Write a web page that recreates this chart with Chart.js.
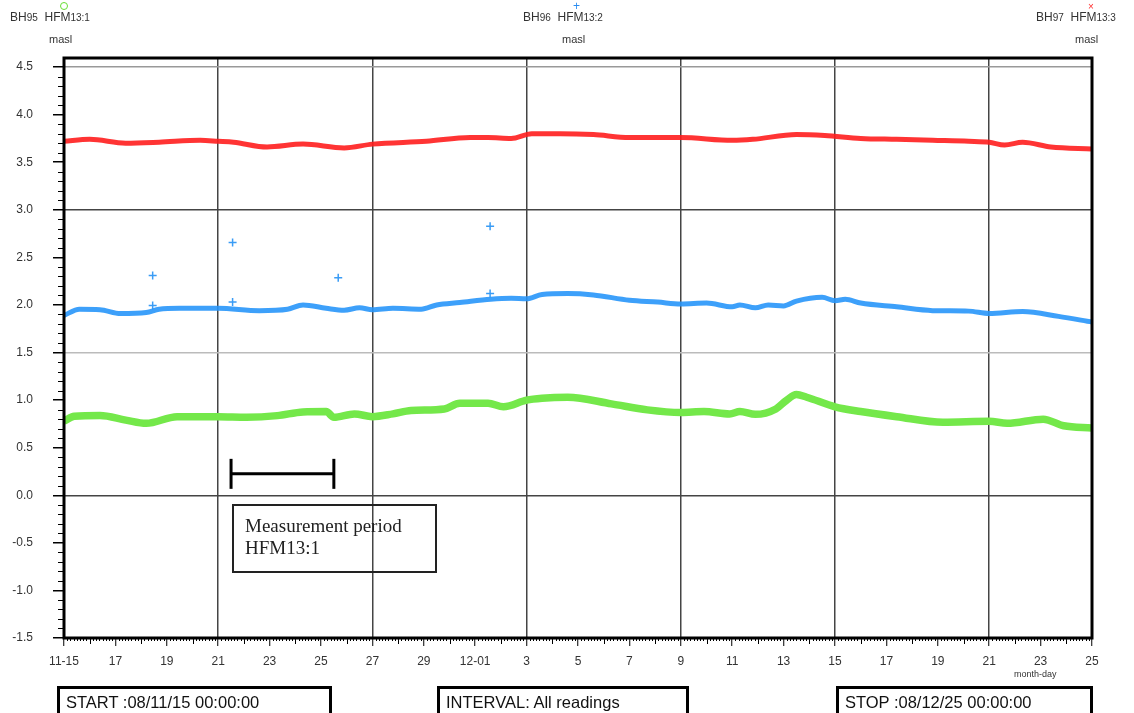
<!DOCTYPE html>
<html>
<head>
<meta charset="utf-8">
<script src="https://cdn.jsdelivr.net/npm/chart.js@4/dist/chart.umd.min.js"></script>
<style>
    body { margin:0; background:#fff; font-family:'Liberation Sans', Arial, sans-serif; color:#333; }
    #wrap { position:relative; width:1134px; height:713px; overflow:hidden; }
    #grafNiveles { position:absolute; left:0; top:0; }
    .cab { position:absolute; top:10px; font-size:12px; white-space:nowrap; color:#333; }
    .cab small { font-size:10px; }
    .masl { position:absolute; top:33px; font-size:11px; color:#333; }
    .marca { position:absolute; font-size:11px; line-height:11px; }
    .caja { position:absolute; top:686px; height:40px; border:3px solid #000; box-sizing:border-box; font-size:16.5px; color:#111; padding:4px 0 0 6px; }
    #periodo { position:absolute; left:232px; top:504px; width:205px; height:69px; border:2px solid #222; box-sizing:border-box;
        font-family:'Liberation Serif', 'Times New Roman', serif; font-size:19px; line-height:22px; color:#222; padding:9px 0 0 11px; }
    #mesdia { position:absolute; left:1014px; top:669px; font-size:9px; color:#333; }
</style>
</head>
<body>
<div id="wrap">
    <canvas id="grafNiveles" width="1134" height="713"></canvas>

    <div class="marca" style="left:60px;top:2px;width:6px;height:6px;border:1px solid #66dd33;border-radius:50%;"></div>
    <div class="cab" style="left:10px">BH<small>95</small>&nbsp; HFM<small>13:1</small></div>
    <div class="masl" style="left:49px">masl</div>

    <div class="marca" style="left:573px;top:1px;color:#2a8cf0;font-size:12px">+</div>
    <div class="cab" style="left:523px">BH<small>96</small>&nbsp; HFM<small>13:2</small></div>
    <div class="masl" style="left:562px">masl</div>

    <div class="marca" style="left:1088px;top:1px;color:#ff3030;font-size:10px">×</div>
    <div class="cab" style="left:1036px">BH<small>97</small>&nbsp; HFM<small>13:3</small></div>
    <div class="masl" style="left:1075px">masl</div>

    <div id="periodo">Measurement period<br>HFM13:1</div>
    <div id="mesdia">month-day</div>

    <div class="caja" style="left:57px;width:275px">START :08/11/15 00:00:00</div>
    <div class="caja" style="left:437px;width:252px">INTERVAL: All readings</div>
    <div class="caja" style="left:836px;width:257px">STOP :08/12/25 00:00:00</div>
</div>

<script>
let xTickLabels = ['11-15','17','19','21','23','25','27','29','12-01','3','5','7','9','11','13','15','17','19','21','23','25']

let redDays = [0,1,2.4,3.7,5.3,6,6.6,7.9,9.3,10.9,12,14.1,15.8,16.5,17.4,18.2,19.3,20.6,22,24,26,26.8,28.5,29.6,31,32.4,33.8,35.2,36,36.6,37.3,38.4,40]
let redLevels = [3.72,3.74,3.70,3.71,3.73,3.72,3.71,3.66,3.69,3.65,3.69,3.72,3.76,3.76,3.75,3.80,3.80,3.79,3.76,3.76,3.73,3.74,3.79,3.78,3.75,3.74,3.73,3.72,3.71,3.68,3.71,3.66,3.64]

let blueDays = [0,0.6,1.4,2.2,3.2,3.7,4.5,6,7.6,8.7,9.3,10.2,10.9,11.5,12,12.8,13.9,14.5,15.4,16.6,17.4,18,18.6,19.6,20.6,22,23.1,24,25,26,26.3,26.9,27.4,28,28.5,29.5,30,30.4,31,32.4,33.8,35.2,36,37.3,38.7,40]
let blueLevels = [1.89,1.955,1.95,1.91,1.92,1.955,1.965,1.965,1.94,1.955,2.0,1.965,1.945,1.97,1.95,1.965,1.955,2.0,2.025,2.06,2.07,2.065,2.11,2.12,2.105,2.05,2.03,2.01,2.02,1.98,2.0,1.97,2.0,1.99,2.04,2.08,2.045,2.06,2.02,1.98,1.94,1.935,1.91,1.93,1.88,1.82]

let blueOutlierDays = [3.45,3.45,6.56,6.56,10.67,16.58,16.58]
let blueOutlierLevels = [2.31,1.995,2.655,2.03,2.286,2.826,2.12]

let greenDays = [0,0.4,1.4,2.4,3.2,4.4,6,7.1,8.3,9.3,10.2,10.5,11.3,12,12.8,13.5,14.8,15.4,16.5,17.1,18,18.6,19.6,21.3,22.7,24,24.9,25.9,26.3,26.9,27.7,28.1,28.5,28.9,30,31,32.4,34.2,36,36.7,38.1,38.9,40]
let greenLevels = [0.78,0.83,0.837,0.79,0.756,0.826,0.826,0.82,0.837,0.876,0.88,0.82,0.855,0.826,0.855,0.89,0.907,0.967,0.967,0.93,1.0,1.02,1.03,0.96,0.897,0.87,0.88,0.855,0.88,0.85,0.907,0.995,1.058,1.03,0.93,0.88,0.826,0.767,0.777,0.756,0.8,0.73,0.707]

let periodDays = [6.5,10.5]
let periodLevel = 0.225

function puntos(dias, valores)
{
    return dias.map((d,i) => ({x:d, y:valores[i]}))
}

document.addEventListener('DOMContentLoaded',()=>{

    let marcoYTicks = {
        id:'marcoYTicks',
        afterDatasetsDraw(chart){
            let ctx = chart.ctx
            let area = chart.chartArea
            let x = chart.scales.x
            let y = chart.scales.y
            ctx.save()
            ctx.strokeStyle = '#000'
            ctx.lineWidth = 1
            ctx.beginPath()
            for(let v = -15; v <= 45; v++)
            {
                if(v % 5 === 0) continue
                let py = Math.round(y.getPixelForValue(v/10)) + 0.5
                ctx.moveTo(area.left - 6, py)
                ctx.lineTo(area.left, py)
            }
            for(let k = 1; k < 320; k++)
            {
                if(k % 16 === 0) continue
                let px = Math.round(x.getPixelForValue(k/8)) + 0.5
                let largo = (k % 8 === 0) ? 6 : 3
                ctx.moveTo(px, area.bottom)
                ctx.lineTo(px, area.bottom + largo)
            }
            ctx.stroke()
            ctx.lineWidth = 3
            ctx.strokeRect(area.left, area.top, area.right - area.left, area.bottom - area.top)
            ctx.restore()
        }
    }

    let grafNiveles = document.getElementById('grafNiveles')

    let tablaNiveles = new Chart(grafNiveles,{
        type:'line',
        plugins:[marcoYTicks],
        options:{
            responsive:false,
            animation:false,
            events:[],
            layout:{
                padding:{left:0, right:42, top:58, bottom:45},
            },
            plugins:{
                legend:{display:false},
                tooltip:{enabled:false},
            },
            scales:{
                x:{
                    type:'linear',
                    min:0,
                    max:40,
                    afterFit:(scale) => { scale.height = 30 },
                    border:{display:false},
                    grid:{
                        color:(ctx) => {
                            let v = ctx.tick ? ctx.tick.value : 0
                            return (v > 0 && v < 40 && v % 6 === 0) ? '#444' : 'rgba(0,0,0,0)'
                        },
                        lineWidth:1.5,
                        tickColor:'#000',
                        tickLength:8,
                        tickWidth:1,
                    },
                    ticks:{
                        stepSize:2,
                        autoSkip:false,
                        maxRotation:0,
                        padding:8,
                        color:'#333',
                        font:{family:'Liberation Sans', size:12},
                        callback:(value) => xTickLabels[Math.round(value/2)],
                    },
                },
                y:{
                    min:-1.5,
                    max:4.595,
                    afterFit:(scale) => { scale.width = 64 },
                    border:{display:false},
                    grid:{
                        color:(ctx) => {
                            let v = ctx.tick ? Math.round(ctx.tick.value*10) : 0
                            if(v === 45) return '#999'
                            if(v === 30) return '#444'
                            if(v === 15) return '#bbb'
                            if(v === 0) return '#444'
                            return 'rgba(0,0,0,0)'
                        },
                        lineWidth:1.5,
                        tickColor:'#000',
                        tickLength:11,
                        tickWidth:1.5,
                    },
                    ticks:{
                        stepSize:0.5,
                        includeBounds:false,
                        padding:20,
                        color:'#333',
                        font:{family:'Liberation Sans', size:12},
                        callback:(value) => value.toFixed(1),
                    },
                },
            },
        },
        data:{
            datasets:[{
                label:'HFM13:1',
                data:puntos(greenDays, greenLevels),
                borderColor:'#74e84a',
                borderWidth:7.5,
                pointRadius:0,
                cubicInterpolationMode:'monotone',
            },
            {
                label:'HFM13:1 interior',
                data:puntos(greenDays, greenLevels),
                borderColor:'#b8f29c',
                borderWidth:2.5,
                pointRadius:0,
                cubicInterpolationMode:'monotone',
            },
            {
                label:'HFM13:2',
                data:puntos(blueDays, blueLevels),
                borderColor:'rgba(40,150,250,0.9)',
                borderWidth:5,
                pointRadius:0,
                cubicInterpolationMode:'monotone',
            },
            {
                label:'HFM13:2 outliers',
                data:puntos(blueOutlierDays, blueOutlierLevels),
                showLine:false,
                pointStyle:'cross',
                pointRadius:4,
                borderColor:'#3a9cf5',
                pointBorderWidth:1.5,
            },
            {
                label:'HFM13:3',
                data:puntos(redDays, redLevels),
                borderColor:'rgba(255,30,30,0.9)',
                borderWidth:5,
                pointRadius:0,
                cubicInterpolationMode:'monotone',
            },
            {
                label:'Measurement period',
                data:periodDays.map(d => ({x:d, y:periodLevel})),
                borderColor:'#000',
                borderWidth:3,
                pointStyle:'line',
                pointRotation:90,
                pointRadius:15,
                pointBorderWidth:3,
                pointBorderColor:'#000',
            }]
        }
    })
})
</script>
</body>
</html>
